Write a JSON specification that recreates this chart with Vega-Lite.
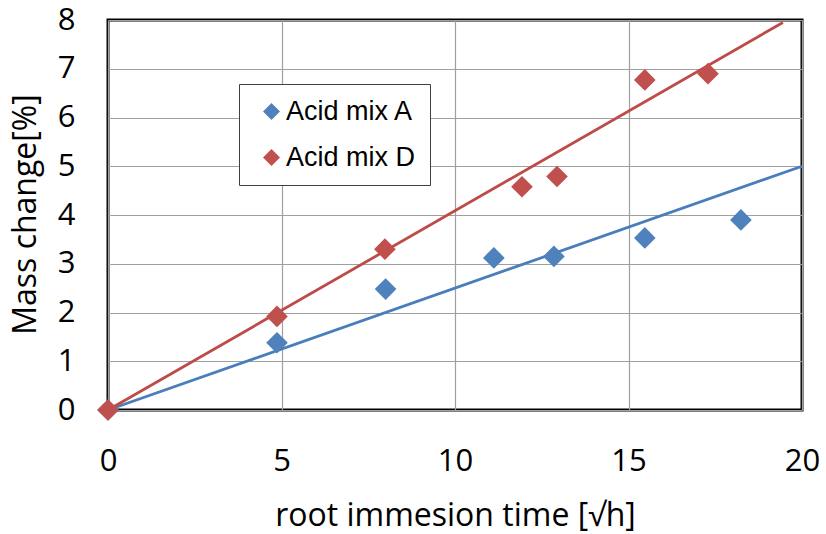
{
  "$schema": "https://vega.github.io/schema/vega-lite/v6.json",
  "width": 694,
  "height": 390,
  "autosize": {"type": "none"},
  "padding": {"left": 108, "top": 20, "right": 24, "bottom": 124},
  "background": "white",
  "config": {
    "view": {"stroke": "#000000", "strokeWidth": 3},
    "axis": {
      "grid": true,
      "gridColor": "#A0A0A0",
      "gridWidth": 1.2,
      "domain": false,
      "ticks": false,
      "tickSize": 0,
      "labelFont": "Open Sans",
      "labelFontSize": 31,
      "labelColor": "#000000",
      "labelOverlap": false,
      "labelFlush": false,
      "titleFont": "Open Sans",
      "titleFontSize": 32,
      "titleFontWeight": "normal",
      "titleColor": "#000000"
    }
  },
  "datasets": {
    "points": [
      {"series": "Acid mix A", "x": 0, "y": 0},
      {"series": "Acid mix A", "x": 4.87, "y": 1.38},
      {"series": "Acid mix A", "x": 8.0, "y": 2.48},
      {"series": "Acid mix A", "x": 11.12, "y": 3.12},
      {"series": "Acid mix A", "x": 12.85, "y": 3.15},
      {"series": "Acid mix A", "x": 15.47, "y": 3.53},
      {"series": "Acid mix A", "x": 18.24, "y": 3.9},
      {"series": "Acid mix D", "x": 0, "y": 0},
      {"series": "Acid mix D", "x": 4.87, "y": 1.92},
      {"series": "Acid mix D", "x": 7.98, "y": 3.3},
      {"series": "Acid mix D", "x": 11.93, "y": 4.58},
      {"series": "Acid mix D", "x": 12.94, "y": 4.79},
      {"series": "Acid mix D", "x": 15.47, "y": 6.77},
      {"series": "Acid mix D", "x": 17.29, "y": 6.9}
    ],
    "fits": [
      {"fit": "A", "x": 0, "y": 0},
      {"fit": "A", "x": 20, "y": 5},
      {"fit": "D", "x": 0, "y": 0},
      {"fit": "D", "x": 19.45, "y": 7.95}
    ]
  },
  "layer": [
    {
      "data": {"name": "fits"},
      "mark": {"type": "line", "strokeWidth": 2.8, "clip": false},
      "encoding": {
        "x": {
          "field": "x",
          "type": "quantitative",
          "scale": {"domain": [0, 20], "nice": false},
          "axis": {
            "values": [0, 5, 10, 15, 20],
            "labelPadding": 60,
            "labelBaseline": "alphabetic",
            "title": "root immesion time [√h]",
            "titleY": 115,
            "titleBaseline": "alphabetic"
          }
        },
        "y": {
          "field": "y",
          "type": "quantitative",
          "scale": {"domain": [0, 8], "nice": false},
          "axis": {
            "values": [0, 1, 2, 3, 4, 5, 6, 7, 8],
            "labelPadding": 33,
            "title": "Mass change[%]",
            "titleX": -73,
            "titleY": 194,
            "titleAngle": -90,
            "titleAlign": "center",
            "titleBaseline": "alphabetic"
          }
        },
        "stroke": {
          "field": "fit",
          "type": "nominal",
          "scale": {"domain": ["A", "D"], "range": ["#4A7EBB", "#BE4B48"]},
          "legend": null
        }
      }
    },
    {
      "data": {"name": "points"},
      "mark": {"type": "point", "shape": "diamond", "filled": true, "size": 470, "opacity": 1, "clip": false},
      "encoding": {
        "x": {"field": "x", "type": "quantitative"},
        "y": {"field": "y", "type": "quantitative"},
        "color": {
          "field": "series",
          "type": "nominal",
          "scale": {"domain": ["Acid mix A", "Acid mix D"], "range": ["#4F81BD", "#C0504D"]},
          "legend": {
            "title": null,
            "orient": "none",
            "legendX": 131,
            "legendY": 64,
            "symbolType": "diamond",
            "symbolSize": 289,
            "symbolStrokeWidth": 0,
            "symbolOpacity": 1,
            "symbolOffset": 5,
            "labelOffset": 1,
            "labelFont": "Liberation Sans",
            "labelFontSize": 27,
            "labelColor": "#000000",
            "padding": 14,
            "rowPadding": 18,
            "strokeColor": "#404040",
            "fillColor": "#FFFFFF"
          }
        }
      }
    }
  ]
}
